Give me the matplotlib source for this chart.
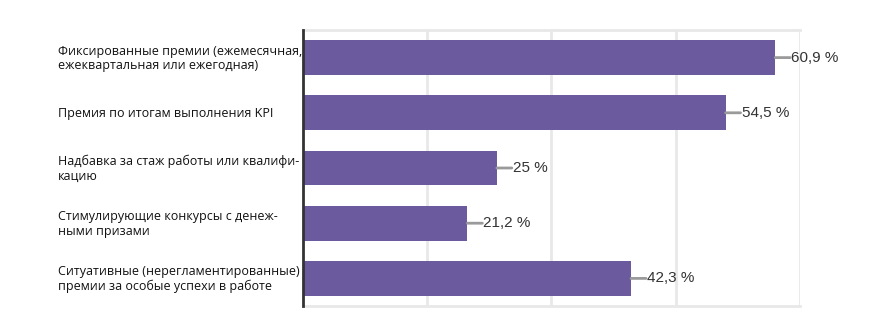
import matplotlib
matplotlib.use("Agg")
import matplotlib.pyplot as plt
import numpy as np

categories = [
    "Фиксированные премии (ежемесячная,\nежеквартальная или ежегодная)",
    "Премия по итогам выполнения KPI",
    "Надбавка за стаж работы или квалифи-\nкацию",
    "Стимулирующие конкурсы с денеж-\nными призами",
    "Ситуативные (нерегламентированные)\nпремии за особые успехи в работе",
]
values = [60.9, 54.5, 25.0, 21.2, 42.3]
value_labels = ["60,9 %", "54,5 %", "25 %", "21,2 %", "42,3 %"]

bar_color = "#6b5a9d"
grid_color = "#e8e8e8"
x_max = 64.1

fig = plt.figure(figsize=(8.95, 3.33), dpi=100)
ax = fig.add_axes([303 / 895, 27 / 333, 497 / 895, 276 / 333])

y = np.arange(len(categories))
ax.barh(y, values, height=0.63, color=bar_color, zorder=3)
ax.set_ylim(len(categories) - 0.5, -0.5)
ax.set_xlim(0, x_max)

ax.set_xticks(np.linspace(0, x_max, 5)[1:])
ax.set_xticklabels([])
ax.set_yticks([])
ax.tick_params(length=0)
ax.grid(axis="x", color=grid_color, lw=2, zorder=0)

for side in ("top", "bottom"):
    ax.spines[side].set_color(grid_color)
    ax.spines[side].set_linewidth(2)
ax.spines["right"].set_visible(False)
ax.spines["left"].set_color("#333333")
ax.spines["left"].set_linewidth(2)
ax.spines["left"].set_zorder(4)

# leader lines and value labels
for yi, v, lab in zip(y, values, value_labels):
    ax.annotate("", xy=(v, yi), xytext=(15, 0), textcoords="offset pixels",
                arrowprops=dict(arrowstyle="-", color="#9a9a9a", lw=2,
                                shrinkA=0, shrinkB=0), zorder=4)
    ax.annotate(lab, xy=(v, yi), xytext=(16, 0), textcoords="offset pixels",
                ha="left", va="center", fontsize=11, color="#333333",
                family="Liberation Sans", annotation_clip=False)

# category labels, left aligned in figure space
for yi, cat in zip(y, categories):
    ax.annotate(cat, xy=(0, yi), xycoords=("figure pixels", "data"),
                xytext=(58, -1), textcoords=("figure pixels", "offset pixels"),
                ha="left", va="center", fontsize=9, color="#111111",
                family="Open Sans", linespacing=1.15)

fig.savefig("out.png", dpi=100)
